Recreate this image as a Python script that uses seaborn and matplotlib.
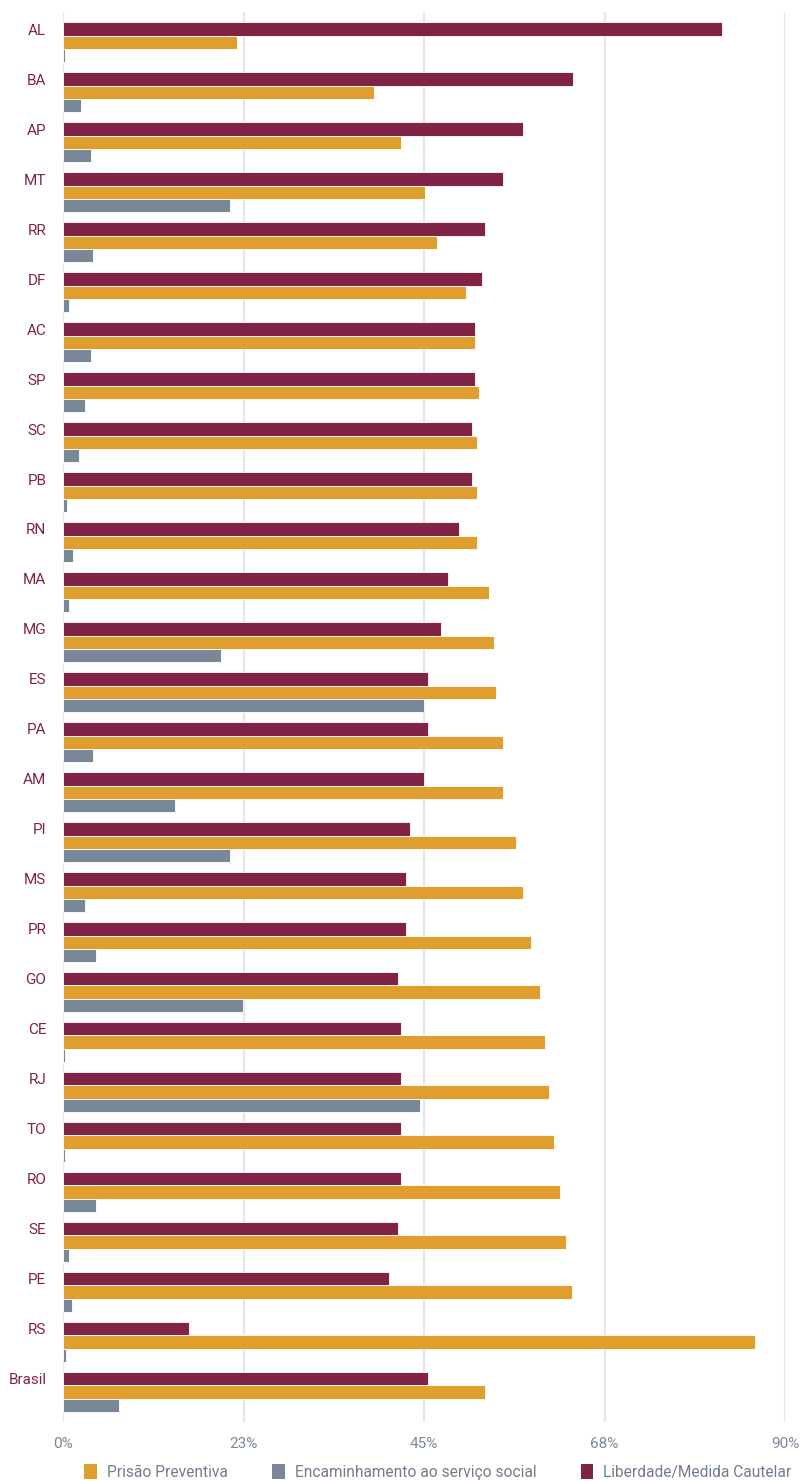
import numpy as np
import pandas as pd
import matplotlib
matplotlib.use("Agg")
import matplotlib.pyplot as plt
import seaborn as sns
from matplotlib.patches import Patch

# Unidades da federação, na ordem de exibição
ufs = ["AL", "BA", "AP", "MT", "RR", "DF", "AC", "SP", "SC", "PB", "RN", "MA", "MG", "ES",
       "PA", "AM", "PI", "MS", "PR", "GO", "CE", "RJ", "TO", "RO", "SE", "PE", "RS", "Brasil"]

# Percentuais por desfecho
liberdade = [82.2, 63.6, 57.4, 54.9, 52.6, 52.2, 51.4, 51.4, 51.0, 51.0, 49.4, 48.0, 47.1, 45.5,
             45.5, 45.0, 43.3, 42.8, 42.8, 41.8, 42.1, 42.1, 42.1, 42.1, 41.8, 40.6, 15.7, 45.5]
prisao = [21.7, 38.8, 42.1, 45.1, 46.6, 50.2, 51.4, 51.9, 51.6, 51.6, 51.6, 53.1, 53.7, 54.0,
          54.9, 54.9, 56.5, 57.4, 58.4, 59.5, 60.1, 60.6, 61.2, 62.0, 62.7, 63.4, 86.2, 52.6]
encaminhamento = [0.25, 2.2, 3.5, 20.8, 3.8, 0.7, 3.5, 2.7, 2.0, 0.45, 1.3, 0.7, 19.7, 45.0,
                  3.8, 14.0, 20.8, 2.7, 4.1, 22.4, 0.25, 44.5, 0.25, 4.1, 0.7, 1.1, 0.4, 7.0]

serie_lib = "Liberdade/Medida Cautelar"
serie_pri = "Prisão Preventiva"
serie_enc = "Encaminhamento ao serviço social"

x_ticks = [0, 22.5, 45, 67.5, 90]
x_tick_labels = ["0%", "23%", "45%", "68%", "90%"]

cores = {serie_lib: "#812346", serie_pri: "#E09E2F", serie_enc: "#798899"}

df = pd.concat([
    pd.DataFrame({"uf": ufs, "valor": liberdade, "serie": serie_lib}),
    pd.DataFrame({"uf": ufs, "valor": prisao, "serie": serie_pri}),
    pd.DataFrame({"uf": ufs, "valor": encaminhamento, "serie": serie_enc}),
], ignore_index=True)

sns.set_theme(style="white")
plt.rcParams["font.family"] = ["Roboto", "DejaVu Sans"]

fig = plt.figure(figsize=(8.02, 14.81), dpi=100)
ax = fig.add_axes([63 / 802, 1 - 1422 / 1481, (785 - 63) / 802, (1422 - 12) / 1481])

sns.barplot(data=df, y="uf", x="valor", hue="serie", order=ufs,
            hue_order=[serie_lib, serie_pri, serie_enc], palette=cores,
            orient="h", width=0.8, saturation=1, edgecolor="white", linewidth=0.6,
            legend=False, ax=ax)

ax.set_xlim(0, 90)
ax.set_ylim(27.6, -0.61)
ax.set_xticks(x_ticks)
ax.set_xticklabels(x_tick_labels)
ax.xaxis.grid(True, color="#e6e6ea", linewidth=1.6)
ax.set_axisbelow(True)
for s in ax.spines.values():
    s.set_visible(False)

# Rótulos das UFs alinhados à primeira barra de cada grupo
ax.set_yticks(np.arange(len(ufs)) - 0.8 / 3)
ax.set_yticklabels(ufs)
ax.tick_params(axis="y", length=0, pad=12, labelsize=11, labelcolor="#812346")
ax.tick_params(axis="x", length=0, pad=11, labelsize=11, labelcolor="#7a8899")
ax.set_xlabel("")
ax.set_ylabel("")

handles = [Patch(facecolor=cores[s], edgecolor="none") for s in [serie_pri, serie_enc, serie_lib]]
fig.legend(handles, [serie_pri, serie_enc, serie_lib], loc="center",
           bbox_to_anchor=(438 / 802, 1 - 1472 / 1481), ncol=3, frameon=False,
           fontsize=11.2, handlelength=0.8, handleheight=1.1, handletextpad=0.65,
           columnspacing=2.85, labelcolor="#707e8e")

fig.savefig("out.png", dpi=100)
